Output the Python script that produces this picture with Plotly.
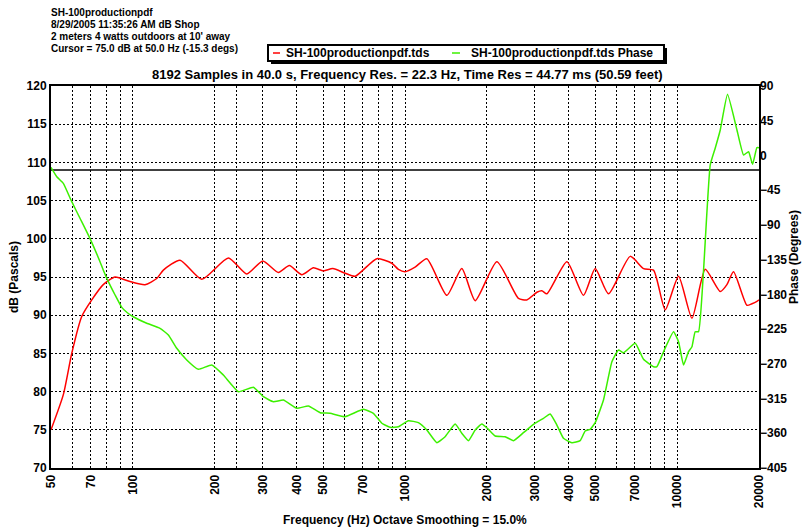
import plotly.graph_objects as go
import math

# ---------------- data ----------------
red_freq = [50, 55.5, 59.6, 64.8, 70.6, 77.8, 86.0, 97.6, 110.8, 122.3, 129.4, 149.0, 179.1,
            224.3, 262.1, 300.1, 342.5, 375.8, 417.6, 460.6, 501.3, 542.8, 602.4, 655.7,
            787.8, 894.5, 945.8, 1001, 1089, 1203, 1425, 1617, 1811, 2176, 2612, 2805,
            3053, 3184, 3322, 3935, 4529, 5000, 5596, 6724, 7527, 8190, 9046, 10124,
            11340, 12690, 14410, 15245, 16120, 18060, 18840, 19650, 20000]
red_db = [75.0, 79.6, 85.0, 89.8, 92.0, 94.0, 95.0, 94.4, 94.0, 94.8, 95.9, 97.2, 94.7,
          97.5, 95.4, 97.1, 95.6, 96.5, 95.3, 96.2, 95.8, 96.1, 95.5, 95.1,
          97.4, 96.8, 96.0, 95.7, 96.3, 97.4, 92.6, 96.1, 91.9, 97.0, 92.2, 92.0,
          93.0, 93.2, 92.8, 97.0, 92.6, 96.1, 92.8, 97.7, 96.1, 95.9, 90.7, 95.1,
          89.6, 96.0, 93.1, 94.0, 95.7, 91.3, 91.5, 91.8, 92.0]

phase_freq = [50, 52.5, 55.5, 59.6, 63.9, 69.5, 75.7, 77.8, 80.5, 86.0, 91.0, 95.4, 100.3,
              112.4, 125.8, 135.0, 144.9, 157.7, 174.0, 194.9, 215.0, 244.2, 277.2, 301.6,
              328.3, 357.3, 400.3, 441.5, 487.5, 530.5, 602.4, 703.5, 765.2, 821.9, 881.8,
              945.8, 1029, 1120, 1203, 1309, 1404, 1529, 1617, 1711, 1811, 1916, 2026,
              2145, 2334, 2504, 2725, 3009, 3228, 3417, 3616, 3823, 4106, 4403, 4594,
              4793, 5000, 5364, 5760, 6092, 6353, 7015, 7527, 8190, 8430, 8914, 9705,
              10124, 10560, 11015, 11340, 11655, 11990, 12510, 13235, 13805, 14410,
              15320, 16595, 17550, 18310, 18940, 19650, 20000]
phase_deg = [-15.3, -27.5, -36.1, -59.9, -81.4, -107.4, -137.7, -148.4, -160.5, -180.8, -196.8,
             -203.8, -209.0, -217.5, -224.0, -232.7, -249.9, -265.0, -277.1, -271.5, -284.5,
             -306.1, -300.4, -312.6, -319.1, -316.9, -327.6, -324.7, -333.3, -334.1, -338.5,
             -329.0, -334.1, -347.0, -352.3, -351.5, -343.7, -346.3, -355.8, -372.2, -364.4,
             -348.0, -360.0, -369.6, -355.8, -348.0, -354.9, -363.5, -364.4, -369.6, -359.2,
             -347.0, -340.6, -335.0, -349.3, -366.5, -372.2, -369.6, -357.0, -354.9, -346.3,
             -316.9, -267.3, -252.1, -255.6, -243.4, -264.2, -273.7, -273.7, -254.3, -228.4,
             -241.3, -271.5, -254.3, -247.8, -228.4, -228.4, -148.4, -12.4, 9.3, 33.0,
             79.2, 33.0, 0.6, 4.9, -11.5, 10.1, 10.0]

grid_freqs = [50, 60, 70, 80, 90, 100, 200, 240, 300, 400, 500, 600, 700, 800, 900,
              1000, 2000, 3000, 4000, 5000, 6000, 7000, 8000, 9000, 10000, 20000]
labeled_freqs = [50, 70, 100, 200, 300, 400, 500, 700, 1000, 2000, 3000, 4000, 5000,
                 7000, 10000, 20000]
phase_ticks = list(range(90, -406, -45))
ref_line_db = 109

header_lines = ["SH-100productionpdf",
                "8/29/2005 11:35:26 AM dB Shop",
                "2 meters 4 watts outdoors at 10' away",
                "Cursor = 75.0 dB at 50.0 Hz (-15.3 degs)"]
legend_names = ["SH-100productionpdf.tds", "SH-100productionpdf.tds Phase"]
subtitle = "8192 Samples in 40.0 s, Frequency Res. = 22.3 Hz, Time Res = 44.77 ms (50.59 feet)"

# ---------------- layout geometry ----------------
W, H = 804, 529
L, R, T, B = 51, 45, 86, 61
PW, PH = W - L - R, H - T - B


def px(x):
    return (x - L) / PW


def py(y):
    return 1 - (y - T) / PH


RED = "#ff0000"
GREEN = "#3cf000"
FONT = "Liberation Sans"
bold12 = dict(family=FONT, size=12, color="black", weight="bold")

fig = go.Figure()
fig.add_trace(go.Scatter(x=red_freq, y=red_db, mode="lines", name=legend_names[0],
                         line=dict(color=RED, width=1.5, shape="spline", smoothing=0.6),
                         yaxis="y"))
fig.add_trace(go.Scatter(x=phase_freq, y=phase_deg, mode="lines", name=legend_names[1],
                         line=dict(color=GREEN, width=1.5, shape="spline", smoothing=0.4),
                         yaxis="y2"))

ticktext = [str(f) if f in labeled_freqs else "" for f in grid_freqs]

fig.update_layout(
    width=W, height=H,
    margin=dict(l=L, r=R, t=T, b=B, pad=0),
    paper_bgcolor="white", plot_bgcolor="white",
    showlegend=False,
    font=dict(family=FONT, size=12, color="black"),
    xaxis=dict(type="log", range=[math.log10(50), math.log10(20000)],
               tickmode="array", tickvals=grid_freqs, ticktext=ticktext,
               tickangle=-90, tickfont=bold12, ticks="",
               showgrid=True, gridcolor="black", griddash="2px,2px", gridwidth=1,
               showline=True, linecolor="black", linewidth=2, mirror=True,
               zeroline=False, automargin=False),
    yaxis=dict(range=[70, 120], tickmode="array", tickvals=list(range(70, 121, 5)),
               tickfont=bold12, ticks="",
               showgrid=True, gridcolor="black", griddash="2px,2px", gridwidth=1,
               showline=True, linecolor="black", linewidth=2, mirror=True,
               zeroline=False, automargin=False),
    yaxis2=dict(range=[-405, 90], overlaying="y", side="right",
                tickmode="array", tickvals=phase_ticks,
                tickfont=bold12, ticks="", showgrid=False, zeroline=False,
                showline=False, automargin=False),
)

shapes = []
# reference line
shapes.append(dict(type="line", xref="paper", x0=0, x1=1, yref="y", y0=ref_line_db,
                   y1=ref_line_db, line=dict(color="black", width=1.5), layer="below"))
# legend box with shadow
shapes.append(dict(type="rect", xref="paper", yref="paper",
                   x0=px(271), x1=px(667), y0=py(48), y1=py(64),
                   fillcolor="black", line=dict(width=0)))
shapes.append(dict(type="rect", xref="paper", yref="paper",
                   x0=px(268), x1=px(664), y0=py(45), y1=py(61),
                   fillcolor="white", line=dict(color="black", width=2)))
shapes.append(dict(type="line", xref="paper", yref="paper",
                   x0=px(273), x1=px(280), y0=py(53), y1=py(53),
                   line=dict(color=RED, width=1.5)))
shapes.append(dict(type="line", xref="paper", yref="paper",
                   x0=px(452), x1=px(460), y0=py(53), y1=py(53),
                   line=dict(color=GREEN, width=1.5)))
fig.update_layout(shapes=shapes)

ann = []
for i, line in enumerate(header_lines):
    ann.append(dict(text=line, xref="paper", yref="paper", x=px(49), y=py(12.5 + 12 * i),
                    xanchor="left", yanchor="middle", showarrow=False,
                    font=dict(family=FONT, size=10, color="black", weight="bold")))
ann.append(dict(text=legend_names[0], xref="paper", yref="paper", x=px(284), y=py(53),
                xanchor="left", yanchor="middle", showarrow=False, font=bold12))
ann.append(dict(text=legend_names[1], xref="paper", yref="paper", x=px(469), y=py(53),
                xanchor="left", yanchor="middle", showarrow=False, font=bold12))
ann.append(dict(text=subtitle, xref="paper", yref="paper", x=px(407), y=py(75),
                xanchor="center", yanchor="middle", showarrow=False,
                font=dict(family=FONT, size=13, color="black", weight="bold")))
ann.append(dict(text="Frequency (Hz) Octave Smoothing = 15.0%", xref="paper", yref="paper",
                x=px(405), y=py(520), xanchor="center", yanchor="middle", showarrow=False,
                font=bold12))
ann.append(dict(text="dB (Pascals)", xref="paper", yref="paper", x=px(14), y=py(277),
                xanchor="center", yanchor="middle", showarrow=False, textangle=-90,
                font=bold12))
ann.append(dict(text="Phase (Degrees)", xref="paper", yref="paper", x=px(794), y=py(257),
                xanchor="center", yanchor="middle", showarrow=False, textangle=-90,
                font=bold12))
fig.update_layout(annotations=ann)

fig.write_html("out.html", config={"displayModeBar": False})

# remove default browser body margin so the figure sits at the page origin
with open("out.html", "r", encoding="utf-8") as fh:
    html = fh.read()
html = html.replace("<head>", "<head><style>html,body{margin:0;padding:0;overflow:hidden;}</style>", 1)
with open("out.html", "w", encoding="utf-8") as fh:
    fh.write(html)
